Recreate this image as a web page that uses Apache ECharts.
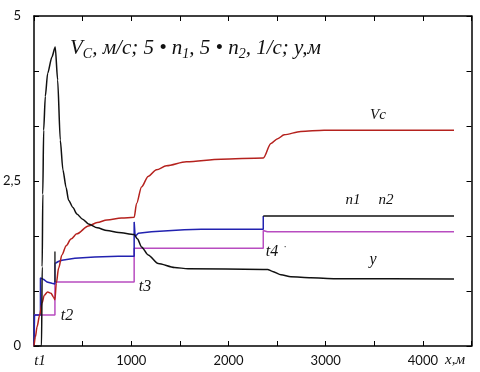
<!DOCTYPE html>
<html><head><meta charset="utf-8">
<script src="https://cdn.jsdelivr.net/npm/echarts@6/dist/echarts.min.js"></script>
<style>html,body{margin:0;padding:0;background:#fff}#c{width:480px;height:372px}</style>
</head><body><div id="c"></div>
<script>
// x in metres
const xTickLabels = [1000, 2000, 3000, 4000];
const yTickLabels = {0: '0', 2.5: '2,5', 5: '5'};
const vcData = [[0,0],[14,0.14],[31,0.29],[58,0.47],[82,0.65],[106,0.77],[140,0.82],[174,0.80],[201,0.74],[215,0.70],[229,0.95],[253,1.18],[287,1.38],[331,1.52],[380,1.62],[440,1.70],[560,1.82],[650,1.87],[750,1.91],[900,1.94],[1030,1.95],[1055,2.16],[1106,2.41],[1174,2.57],[1260,2.67],[1362,2.73],[1567,2.79],[1925,2.83],[2358,2.85],[2437,3.07],[2506,3.14],[2573,3.20],[2744,3.25],[2983,3.27],[4320,3.27]];
const yData = [[0,0],[77,0],[84,1.2],[90,2.3],[99,3.27],[116,3.78],[140,4.13],[184,4.38],[218,4.53],[243,4.03],[270,3.12],[297,2.67],[330,2.4],[355,2.21],[400,2.1],[440,2.0],[500,1.92],[560,1.85],[650,1.79],[750,1.75],[870,1.72],[1030,1.69],[1065,1.62],[1106,1.50],[1174,1.38],[1277,1.25],[1445,1.19],[1584,1.17],[2358,1.16],[2403,1.16],[2454,1.13],[2540,1.08],[2642,1.05],[2847,1.035],[3100,1.02],[4320,1.015]];
const n1Data = [[0,0],[5,0.47],[66,0.47],[66,1.03],[99,1.01],[133,0.97],[184,0.95],[215,0.94],[215,1.25],[250,1.28],[287,1.30],[420,1.33],[625,1.35],[867,1.36],[1030,1.36],[1030,1.88],[1040,1.66],[1072,1.71],[1208,1.73],[1546,1.76],[1720,1.77],[2358,1.77],[2358,1.97]];
const n1LateData = [[2358,1.97],[4320,1.97]];
const n2Data = [[0,0.47],[215,0.47],[215,0.97],[1030,0.97],[1030,1.48],[2358,1.48],[2358,1.75],[2400,1.73],[4320,1.73]];
const t2MarkData = [[215,0.97],[215,1.43]];

const chart = echarts.init(document.getElementById('c'), null, {renderer: 'canvas'});
const serif = '"Liberation Serif", "DejaVu Serif", serif';
const sans = 'Lato, "Liberation Sans", sans-serif';
function ln(data, color, smooth) {
  const s = {type: 'line', data: data, showSymbol: false, symbol: 'none', animation: false,
    lineStyle: {color: color, width: 1.5}, itemStyle: {color: color}, z: 3};
  if (smooth) { s.smooth = smooth; s.smoothMonotone = 'x'; }
  return s;
}
const axCommon = {
  type: 'value', min: 0, max: 4500, interval: 500,
  axisLine: {show: true, onZero: false, lineStyle: {color: '#000', width: 1.5}},
  axisTick: {show: true, inside: true, length: 5, lineStyle: {color: '#000', width: 1}},
  splitLine: {show: false}
};
const ayCommon = {
  type: 'value', min: 0, max: 5, interval: 5 / 6,
  axisLine: {show: true, onZero: false, lineStyle: {color: '#000', width: 1.5}},
  axisTick: {show: true, inside: true, length: 5, lineStyle: {color: '#000', width: 1}},
  splitLine: {show: false}
};
function lbl(text, x, y, size) {
  return {type: 'text', x: x, y: y, z: 10, style: {text: text, fill: '#111',
    font: 'italic ' + size + 'px ' + serif, textAlign: 'center', textVerticalAlign: 'middle'}};
}
chart.setOption({
  animation: false,
  grid: {left: 32, right: 8.5, top: 16, bottom: 26},
  xAxis: [
    Object.assign({}, axCommon, {position: 'bottom',
      axisLabel: {show: true, margin: 8, color: '#111', fontFamily: sans, fontSize: 13,
        formatter: v => xTickLabels.indexOf(Math.round(v)) >= 0 ? String(Math.round(v)) : ''}}),
    Object.assign({}, axCommon, {position: 'top', axisLabel: {show: false}})
  ],
  yAxis: [
    Object.assign({}, ayCommon, {position: 'left',
      axisLabel: {show: true, margin: 13, color: '#111', fontFamily: sans, fontSize: 13,
        formatter: v => { for (const k in yTickLabels) { if (Math.abs(v - Number(k)) < 0.01) return yTickLabels[k]; } return ''; }}}),
    Object.assign({}, ayCommon, {position: 'right', axisLabel: {show: false}})
  ],
  series: [
    ln(n2Data, '#b84cc0'),
    ln(n1Data, '#2222b0'),
    ln(n1LateData, '#111'),
    ln(t2MarkData, '#333'),
    ln(vcData, '#b5221e', 0.3),
    ln(yData, '#111', 0.25)
  ],
  graphic: [
    {type: 'text', left: 70, top: 35, z: 10, style: {
      text: '{m|V}{s|C}{m|, м/с; 5 • n}{s|1}{m|, 5 • n}{s|2}{m|, 1/с; y,м}',
      rich: {
        m: {fontFamily: serif, fontStyle: 'italic', fontSize: 21, fill: '#111', lineHeight: 24},
        s: {fontFamily: serif, fontStyle: 'italic', fontSize: 14, fill: '#111', padding: [12, 0, 0, 0], lineHeight: 24}
      }}},
    lbl('Vc', 378, 115, 15),
    lbl('n1', 353, 200, 15),
    lbl('n2', 386, 200, 15),
    lbl('y', 373, 260, 16),
    lbl('t4', 272, 252, 16),
    lbl('·', 285, 247, 10),
    lbl('t3', 145, 287, 16),
    lbl('t2', 67, 316, 16),
    lbl('t1', 40, 361, 15),
    lbl('x,м', 455, 360, 15)
  ]
});
</script></body></html>
